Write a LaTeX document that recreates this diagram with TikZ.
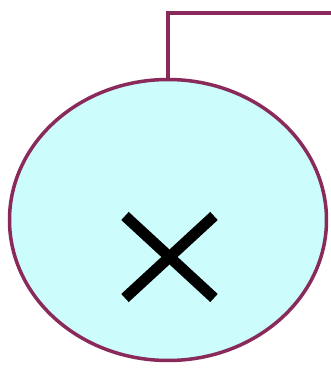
\documentclass[tikz,border=0pt]{standalone}
\usetikzlibrary{shapes.geometric}
\definecolor{edgec}{HTML}{8A2A5A}
\definecolor{fillc}{HTML}{CCFCFC}
\tikzset{
  bubble/.style={ellipse, draw=edgec, fill=fillc, line width=3.5pt, inner sep=0pt,
    minimum width=317pt, minimum height=281pt},
  wire/.style={draw=edgec, line width=3.5pt},
  crossline/.style={draw=black, line width=11pt}
}
\begin{document}
\begin{tikzpicture}[x=1pt,y=1pt]
\useasboundingbox (0,0) rectangle (331,368);
\node[bubble] (c) at (168,148) {};
\coordinate (end) at (332,355);
\draw[wire] (c.north) |- (end);
\coordinate (x1) at (125,152);
\coordinate (x2) at (214,70);
\coordinate (x3) at (214,152);
\coordinate (x4) at (125,70);
\draw[crossline] (x1) -- (x2);
\draw[crossline] (x3) -- (x4);
\end{tikzpicture}
\end{document}
